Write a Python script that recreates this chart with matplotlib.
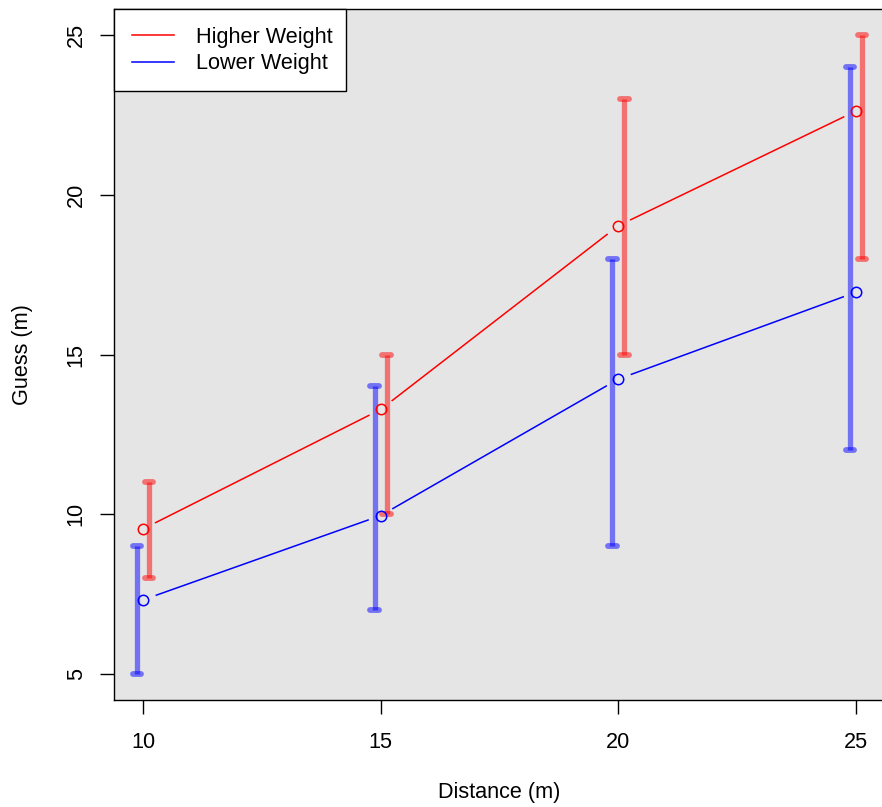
"""
Mean guess vs. distance for two weight conditions, with min-max range bars.
"""

import matplotlib
matplotlib.use("Agg")
import matplotlib.pyplot as plt

distance = [10, 15, 20, 25]

higher_mean = [9.54, 13.28, 19.03, 22.62]
higher_low = [8, 10, 15, 18]
higher_high = [11, 15, 23, 25]

lower_mean = [7.32, 9.96, 14.23, 16.95]
lower_low = [5, 7, 9, 12]
lower_high = [9, 14, 18, 24]

BG = "#E5E5E5"
OFFSET = 0.125
CAP = 0.09

plt.rcParams["font.family"] = ["Liberation Sans", "DejaVu Sans"]
plt.rcParams["font.size"] = 15.6

fig = plt.figure(figsize=(8.82, 8.07), dpi=100)
ax = fig.add_axes([114.5 / 882, 1 - 699.6 / 807, 770 / 882, 690.2 / 807])
ax.set_facecolor(BG)

for mean, col, lab in [
    (higher_mean, "red", "Higher Weight"),
    (lower_mean, "blue", "Lower Weight"),
]:
    ax.plot(distance, mean, color=col, lw=1.1, label=lab, zorder=2)
    # gap around points like R's type="b"
    ax.plot(distance, mean, ls="none", marker="o", ms=19, mfc=BG, mec="none", zorder=3)

for low, high, col, sign in [
    (higher_low, higher_high, "red", 1),
    (lower_low, lower_high, "blue", -1),
]:
    xs = [d + sign * OFFSET for d in distance]
    ax.vlines(xs, low, high, color=col, alpha=0.5, lw=3.8, zorder=4)
    for ends in (low, high):
        ax.hlines(ends, [x - CAP for x in xs], [x + CAP for x in xs],
                  color=col, alpha=0.5, lw=4.2, capstyle="round", zorder=4)

for mean, col in [(higher_mean, "red"), (lower_mean, "blue")]:
    ax.plot(distance, mean, ls="none", marker="o", ms=7.5, mfc="none",
            mec=col, mew=1.1, zorder=5)

ax.set_xlim(9.4, 25.6)
ax.set_ylim(4.2, 25.8)
ax.set_xticks(distance)
ax.set_yticks([5, 10, 15, 20, 25])
ax.tick_params(length=10, width=1, direction="out")
ax.tick_params(axis="x", pad=13)
ax.tick_params(axis="y", pad=10)
for t in ax.get_yticklabels():
    t.set_rotation(90)
    t.set_va("center")

for s in ax.spines.values():
    s.set_linewidth(1)

ax.set_xlabel("Distance (m)")
ax.set_ylabel("Guess (m)")
ax.xaxis.set_label_coords(0.5, -0.1353)
ax.yaxis.set_label_coords(-0.1201, 0.5)
ax.xaxis.label.set_va("center")
ax.yaxis.label.set_va("center")

leg = ax.legend(loc="upper left", bbox_to_anchor=(0, 0, 0.3005, 1), mode="expand",
                borderaxespad=0, fancybox=False, edgecolor="black", framealpha=1,
                handlelength=1.95, handletextpad=1.0, labelspacing=0.25,
                borderpad=0.8)
leg.get_frame().set_linewidth(1)

fig.savefig("out.png", dpi=100)
